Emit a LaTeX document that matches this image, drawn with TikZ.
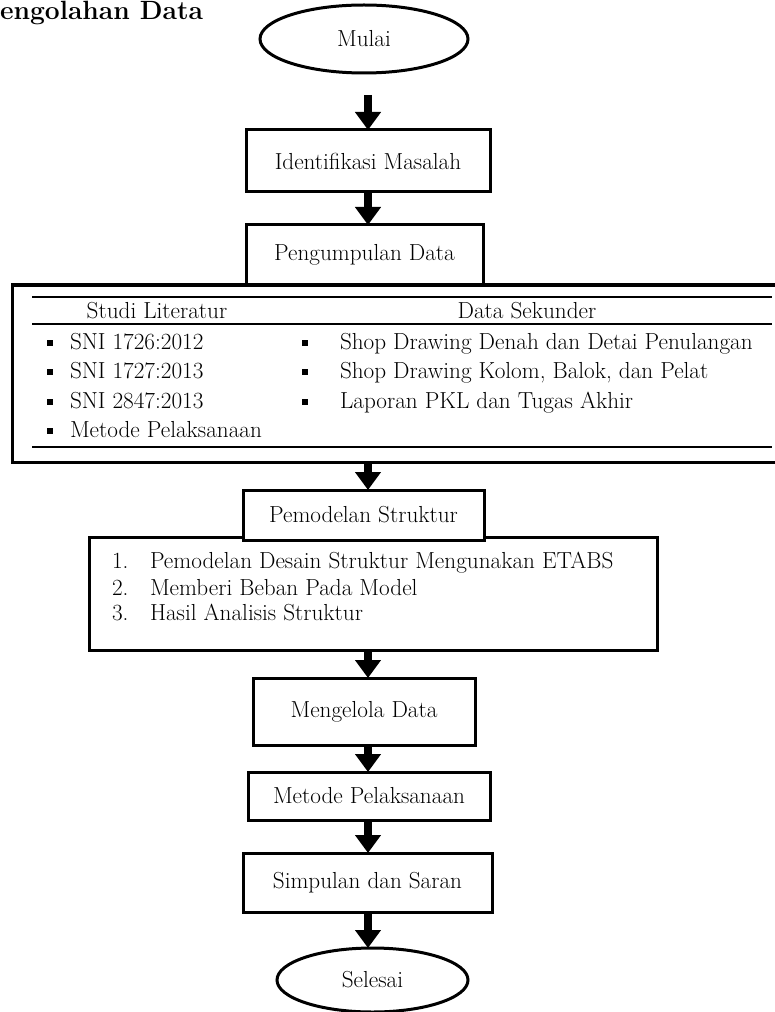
\documentclass[tikz,border=0pt]{standalone}
\usetikzlibrary{arrows.meta,shapes.geometric,calc}
\begin{document}
\begin{tikzpicture}[x=0.75pt,y=-0.75pt,
  every node/.style={font=\fontsize{17.4}{20}\selectfont, inner sep=0pt, outer sep=0pt},
  box/.style={draw, line width=2.25pt, fill=white, rectangle},
  oval/.style={draw, ellipse, line width=2.25pt, fill=white},
  arr/.style={line width=6pt, -{Triangle[length=13.5pt, width=18.75pt]}},
  rulex/.style={line width=1.9pt},
  bul/.style={fill=black, minimum size=4.8pt, rectangle},
  txt/.style={anchor=base west},
]
\useasboundingbox (0,0) rectangle (774,1012);

% title
\node[anchor=base west, font=\bfseries\fontsize{19.8}{23}\selectfont] (title) at (0,20) {engolahan Data};

% main chain
\node[oval, minimum width=156pt, minimum height=51pt] (mulai) at (364,39) {Mulai};
\node[box, minimum width=183pt, minimum height=46.5pt] (ident) at (368,161) {Identifikasi Masalah};
\node[box, minimum width=177.75pt, minimum height=45pt] (kumpul) at (364.5,255) {Pengumpulan Data};

% big data box
\node[box, minimum width=574.5pt, minimum height=132.75pt] (big) at (395,373.5) {};
\draw[rulex] (32,297) -- (772,297);
\draw[rulex] (32,324) -- (772,324);
\draw[rulex] (32,447) -- (772,447);

\node[anchor=base] (hl) at (157,318) {Studi Literatur};
\node[anchor=base] (hr) at (527,318) {Data Sekunder};

\node[bul] (bl1) at (50,343) {};
\node[bul] (bl2) at (50,372) {};
\node[bul] (bl3) at (50,402) {};
\node[bul] (bl4) at (50,431) {};
\node[txt] (tl1) at (70,349) {SNI 1726:2012};
\node[txt] (tl2) at (70,378) {SNI 1727:2013};
\node[txt] (tl3) at (70,408) {SNI 2847:2013};
\node[txt] (tl4) at (70,437) {Metode Pelaksanaan};

\node[bul] (br1) at (305,343) {};
\node[bul] (br2) at (305,372) {};
\node[bul] (br3) at (305,402) {};
\node[txt] (tr1) at (340,349) {Shop Drawing Denah dan Detai Penulangan};
\node[txt] (tr2) at (340,378) {Shop Drawing Kolom, Balok, dan Pelat};
\node[txt] (tr3) at (340,408) {Laporan PKL dan Tugas Akhir};

% modelling list box
\node[box, minimum width=426pt, minimum height=84.75pt] (list) at (373,593.5) {};
\node[box, minimum width=180.75pt, minimum height=37.5pt] (pemod) at (363.5,515) {Pemodelan Struktur};
\node[txt] (n1) at (112,568) {1.};
\node[txt] (n2) at (112,595) {2.};
\node[txt] (n3) at (112,620) {3.};
\node[txt] (m1) at (150,568) {Pemodelan Desain Struktur Mengunakan ETABS};
\node[txt] (m2) at (150,595) {Memberi Beban Pada Model};
\node[txt] (m3) at (150,620) {Hasil Analisis Struktur};

\node[box, minimum width=166.5pt, minimum height=50.25pt] (meng) at (364,711.5) {Mengelola Data};
\node[box, minimum width=181.5pt, minimum height=36pt] (metode) at (369,796) {Metode Pelaksanaan};
\node[box, minimum width=186.75pt, minimum height=44.25pt] (simp) at (367.5,882.5) {Simpulan dan Saran};
\node[oval, minimum width=143.25pt, minimum height=48pt] (selesai) at (372.5,980) {Selesai};

% arrows
\coordinate (a1) at (368,95);
\coordinate (ax) at (368,0);
\draw[arr] (a1) -- (ax |- ident.north);
\draw[arr] (ax |- ident.south) -- (ax |- kumpul.north);
\draw[arr] (ax |- big.south) -- (ax |- pemod.north);
\draw[arr] (ax |- list.south) -- (ax |- meng.north);
\draw[arr] (ax |- meng.south) -- (ax |- metode.north);
\draw[arr] (ax |- metode.south) -- (ax |- simp.north);
\draw[arr] (ax |- simp.south) -- (ax |- selesai.north);
\end{tikzpicture}
\end{document}
